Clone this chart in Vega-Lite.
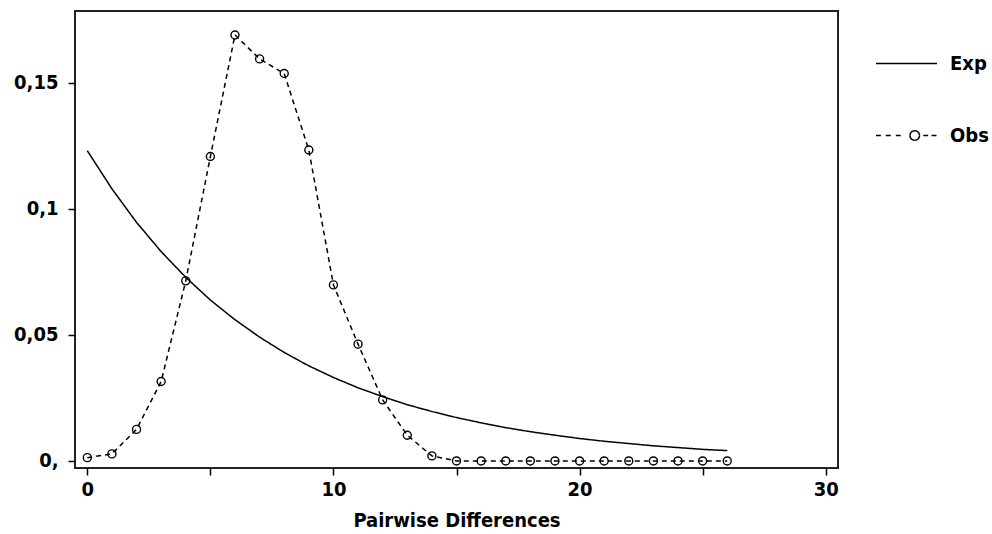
{
  "$schema": "https://vega.github.io/schema/vega-lite/v6.json",
  "width": 763,
  "height": 457,
  "autosize": "none",
  "padding": {"left": 75, "top": 11, "right": 154, "bottom": 66},
  "background": "white",
  "config": {
    "view": {"stroke": "#222", "strokeWidth": 2},
    "font": "DejaVu Sans Condensed",
    "axis": {
      "labelFont": "DejaVu Sans Condensed",
      "labelFontWeight": "bold",
      "labelFontSize": 20,
      "labelColor": "#000",
      "titleFont": "DejaVu Sans Condensed",
      "titleFontWeight": "bold",
      "titleFontSize": 20,
      "titleColor": "#000",
      "tickColor": "#000",
      "tickWidth": 1.5,
      "tickSize": 7,
      "domain": false,
      "grid": false
    }
  },
  "data": {
    "values": [
      {"x": 0, "y": 0.1230, "series": "Exp"},
      {"x": 1, "y": 0.1079, "series": "Exp"},
      {"x": 2, "y": 0.0946, "series": "Exp"},
      {"x": 3, "y": 0.0830, "series": "Exp"},
      {"x": 4, "y": 0.0728, "series": "Exp"},
      {"x": 5, "y": 0.0638, "series": "Exp"},
      {"x": 6, "y": 0.0560, "series": "Exp"},
      {"x": 7, "y": 0.0491, "series": "Exp"},
      {"x": 8, "y": 0.0430, "series": "Exp"},
      {"x": 9, "y": 0.0377, "series": "Exp"},
      {"x": 10, "y": 0.0331, "series": "Exp"},
      {"x": 11, "y": 0.0290, "series": "Exp"},
      {"x": 12, "y": 0.0255, "series": "Exp"},
      {"x": 13, "y": 0.0223, "series": "Exp"},
      {"x": 14, "y": 0.0196, "series": "Exp"},
      {"x": 15, "y": 0.0172, "series": "Exp"},
      {"x": 16, "y": 0.0151, "series": "Exp"},
      {"x": 17, "y": 0.0132, "series": "Exp"},
      {"x": 18, "y": 0.0116, "series": "Exp"},
      {"x": 19, "y": 0.0102, "series": "Exp"},
      {"x": 20, "y": 0.0089, "series": "Exp"},
      {"x": 21, "y": 0.0078, "series": "Exp"},
      {"x": 22, "y": 0.0069, "series": "Exp"},
      {"x": 23, "y": 0.0060, "series": "Exp"},
      {"x": 24, "y": 0.0053, "series": "Exp"},
      {"x": 25, "y": 0.0046, "series": "Exp"},
      {"x": 26, "y": 0.0041, "series": "Exp"},
      {"x": 0, "y": 0.0013, "series": "Obs"},
      {"x": 1, "y": 0.0028, "series": "Obs"},
      {"x": 2, "y": 0.0125, "series": "Obs"},
      {"x": 3, "y": 0.0315, "series": "Obs"},
      {"x": 4, "y": 0.0714, "series": "Obs"},
      {"x": 5, "y": 0.1207, "series": "Obs"},
      {"x": 6, "y": 0.1689, "series": "Obs"},
      {"x": 7, "y": 0.1594, "series": "Obs"},
      {"x": 8, "y": 0.1536, "series": "Obs"},
      {"x": 9, "y": 0.1233, "series": "Obs"},
      {"x": 10, "y": 0.0698, "series": "Obs"},
      {"x": 11, "y": 0.0463, "series": "Obs"},
      {"x": 12, "y": 0.0242, "series": "Obs"},
      {"x": 13, "y": 0.0102, "series": "Obs"},
      {"x": 14, "y": 0.0020, "series": "Obs"},
      {"x": 15, "y": 0.0, "series": "Obs"},
      {"x": 16, "y": 0.0, "series": "Obs"},
      {"x": 17, "y": 0.0, "series": "Obs"},
      {"x": 18, "y": 0.0, "series": "Obs"},
      {"x": 19, "y": 0.0, "series": "Obs"},
      {"x": 20, "y": 0.0, "series": "Obs"},
      {"x": 21, "y": 0.0, "series": "Obs"},
      {"x": 22, "y": 0.0, "series": "Obs"},
      {"x": 23, "y": 0.0, "series": "Obs"},
      {"x": 24, "y": 0.0, "series": "Obs"},
      {"x": 25, "y": 0.0, "series": "Obs"},
      {"x": 26, "y": 0.0, "series": "Obs"}
    ]
  },
  "encoding": {
    "x": {
      "field": "x",
      "type": "quantitative",
      "scale": {"domain": [-0.5, 30.5], "nice": false, "zero": false},
      "axis": {
        "title": "Pairwise Differences",
        "values": [0, 5, 10, 15, 20, 25, 30],
        "labelExpr": "datum.value % 10 === 0 ? datum.label : ''",
        "labelPadding": 4,
        "titlePadding": 11
      }
    },
    "y": {
      "field": "y",
      "type": "quantitative",
      "scale": {"domain": [-0.0028, 0.1784], "nice": false, "zero": false},
      "axis": {
        "title": null,
        "values": [0, 0.05, 0.1, 0.15],
        "labelExpr": "datum.value === 0 ? '0,' : replace(format(datum.value, '.2~f'), '.', ',')",
        "labelPadding": 10
      }
    }
  },
  "layer": [
    {
      "mark": {"type": "line", "color": "#000", "strokeWidth": 1.5},
      "encoding": {
        "strokeDash": {
          "field": "series",
          "type": "nominal",
          "scale": {"domain": ["Exp", "Obs"], "range": [[1, 0], [5, 4]]},
          "legend": {
            "title": null,
            "orient": "none",
            "legendX": 800,
            "legendY": 21,
            "padding": 0,
            "symbolSize": 3721,
            "symbolStrokeWidth": 1.5,
            "symbolStrokeColor": "#000",
            "symbolFillColor": "transparent",
            "rowPadding": 30,
            "labelOffset": 12,
            "labelFont": "DejaVu Sans Condensed",
            "labelFontWeight": "bold",
            "labelFontSize": 20,
            "labelColor": "#000",
            "encode": {
              "symbols": {
                "update": {
                  "shape": {"signal": "datum.value === 'Obs' ? 'M-1,0L-0.84,0M-0.68,0L-0.51,0M-0.35,0L-0.19,0M0.43,0L0.4086,0.08M0.4086,0.08L0.35,0.1386M0.35,0.1386L0.27,0.16M0.27,0.16L0.19,0.1386M0.19,0.1386L0.1314,0.08M0.1314,0.08L0.11,0M0.11,0L0.1314,-0.08M0.1314,-0.08L0.19,-0.1386M0.19,-0.1386L0.27,-0.16M0.27,-0.16L0.35,-0.1386M0.35,-0.1386L0.4086,-0.08M0.4086,-0.08L0.43,0M0.55,0L0.71,0M0.82,0L1,0' : 'M-1,0L1,0'"},
                  "strokeDash": {"signal": "[1, 0]"},
                  "stroke": {"value": "#000"},
                  "fill": {"value": "transparent"}
                }
              }
            }
          }
        }
      }
    },
    {
      "transform": [{"filter": "datum.series === 'Obs'"}],
      "mark": {"type": "point", "shape": "circle", "filled": false, "color": "#000", "strokeWidth": 1.4, "size": 64, "opacity": 1}
    }
  ]
}
